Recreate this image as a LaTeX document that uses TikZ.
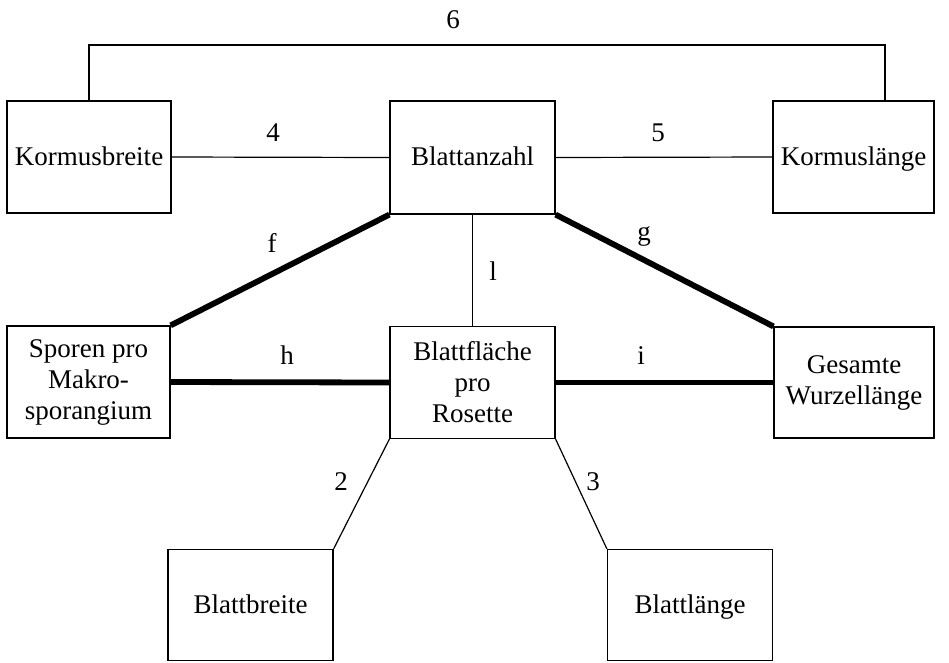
\documentclass[tikz,border=0pt]{standalone}
\usepackage{fontspec}
\setmainfont{Liberation Serif}
\newcommand{\tstrut}{\vphantom{Äg}}
\begin{document}
\begin{tikzpicture}[x=1pt,y=-1pt,
  box/.style={draw, line width=1.2pt, inner sep=0pt, align=center,
    font=\fontsize{27}{31}\selectfont},
  lab/.style={inner sep=0pt, font=\fontsize{27}{31}\selectfont},
  thinline/.style={line width=1.2pt},
  thickline/.style={line width=5.8pt}]
\useasboundingbox (0,0) rectangle (949,662);
\node[box, minimum width=164pt, minimum height=112pt] (kb) at (89,157) {\tstrut Kormusbreite};
\node[box, minimum width=165pt, minimum height=113pt] (ba) at (472.5,157.5) {\tstrut Blattanzahl};
\node[box, minimum width=161pt, minimum height=112pt] (kl) at (853.5,157) {\tstrut Kormuslänge};
\node[box, minimum width=163pt, minimum height=112pt] (sp) at (88.5,382) {Sporen pro\\Makro-\\sporangium};
\node[box, minimum width=165pt, minimum height=112pt] (bf) at (472.5,382.5) {Blattfläche\\pro\\Rosette};
\node[box, minimum width=160pt, minimum height=111pt] (gw) at (854,382.5) {Gesamte\\Wurzellänge};
\node[box, minimum width=165pt, minimum height=111pt] (bb) at (250.5,605) {\tstrut Blattbreite};
\node[box, minimum width=165pt, minimum height=111pt] (bl) at (690,605) {\tstrut Blattlänge};
\coordinate (top6) at (885,45);
% thin connectors
\draw[thinline] (kb.north) |- (top6) -- (top6 |- kl.north);
\draw[thinline] (kb.east) -- (ba.west);
\draw[thinline] (ba.east) -- (kl.west);
\draw[thinline] (ba.south) -- (bf.north);
\draw[thinline] (bf.south west) -- (bb.north east);
\draw[thinline] (bf.south east) -- (bl.north west);
% thick connectors
\draw[thickline] (ba.south west) -- (sp.north east);
\draw[thickline] (ba.south east) -- (gw.north west);
\draw[thickline] (sp.east) -- (bf.west);
\draw[thickline] (bf.east) -- (gw.west);
% labels
\node[lab] (l6) at (453,20) {6};
\node[lab] (l4) at (273,133) {4};
\node[lab] (l5) at (658,133) {5};
\node[lab] (lf) at (272,243) {f};
\node[lab] (lg) at (644,236) {g};
\node[lab] (ll) at (493,271) {l};
\node[lab] (lh) at (287,355) {h};
\node[lab] (li) at (641,356) {i};
\node[lab] (l2) at (341,482) {2};
\node[lab] (l3) at (593,482) {3};
\end{tikzpicture}
\end{document}
